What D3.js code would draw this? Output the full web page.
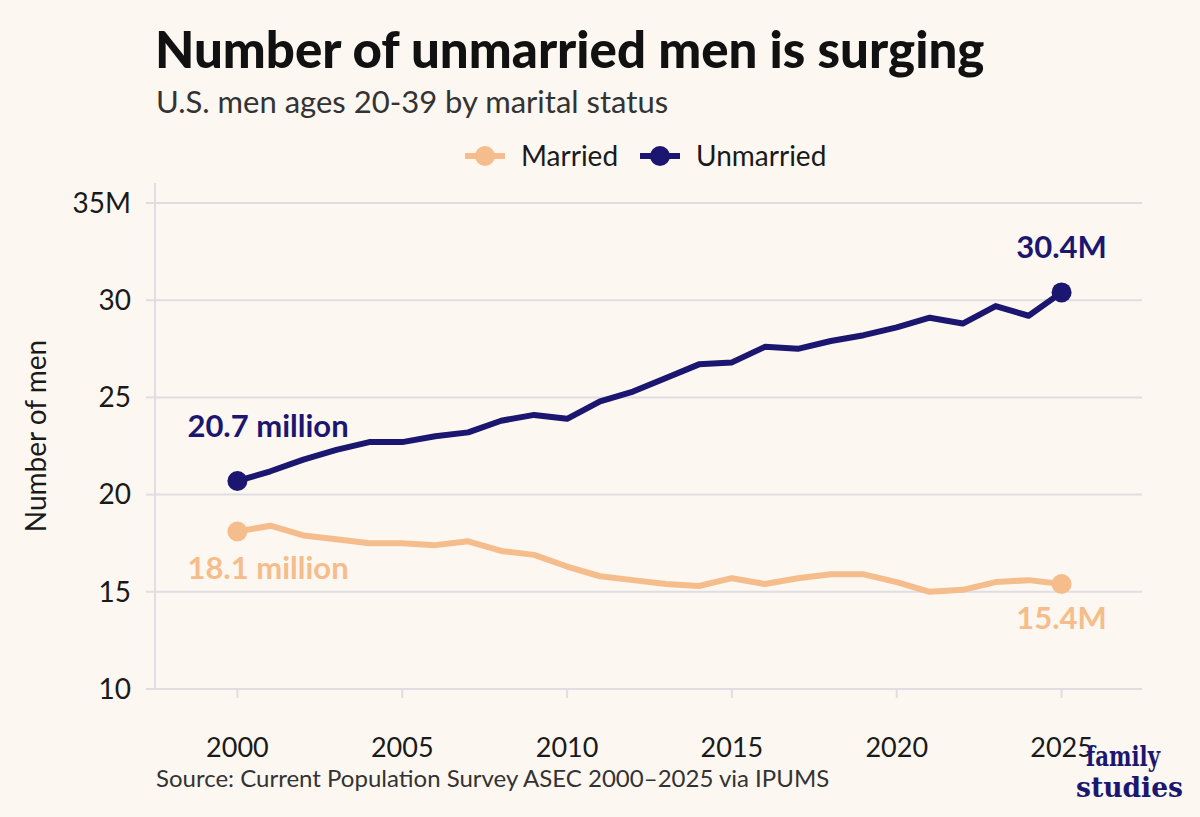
<!DOCTYPE html>
<html><head><meta charset="utf-8">
<script src="https://cdn.jsdelivr.net/npm/d3@7"></script>
<style>
body{margin:0;background:#fcf7f0;font-family:Lato,sans-serif;}
</style></head>
<body><svg id="chart"></svg>
<script>
const years = d3.range(2000, 2026);
const unmarried = [20.7,21.2,21.8,22.3,22.7,22.7,23.0,23.2,23.8,24.1,23.9,24.8,25.3,26.0,26.7,26.8,27.6,27.5,27.9,28.2,28.6,29.1,28.8,29.7,29.2,30.4];
const married = [18.1,18.4,17.9,17.7,17.5,17.5,17.4,17.6,17.1,16.9,16.3,15.8,15.6,15.4,15.3,15.7,15.4,15.7,15.9,15.9,15.5,15.0,15.1,15.5,15.6,15.4];
const yTicks = [10,15,20,25,30,35];
const xTicks = [2000,2005,2010,2015,2020,2025];

const width = 1200, height = 817;
const navy = "#1b1670", peach = "#f5bd8b";
const svg = d3.select("#chart").attr("width", width).attr("height", height);
svg.append("rect").attr("width", width).attr("height", height).attr("fill", "#fcf7f0");

const x = d3.scaleLinear().domain([1997.5, 2027.5]).range([155, 1144]);
const y = d3.scaleLinear().domain([10, 35]).range([689, 203]);

// gridlines
svg.append("g").selectAll("line").data(yTicks).join("line")
  .attr("x1", 155).attr("x2", 1142)
  .attr("y1", d => y(d)).attr("y2", d => y(d))
  .attr("stroke", "#e0dde3").attr("stroke-width", 2);

// axis lines
svg.append("line").attr("x1", 155).attr("x2", 155).attr("y1", 183).attr("y2", 689)
  .attr("stroke", "#e0dde3").attr("stroke-width", 2);
svg.append("line").attr("x1", 155).attr("x2", 1142).attr("y1", 689).attr("y2", 689)
  .attr("stroke", "#e0dde3").attr("stroke-width", 2);

// y tick labels
svg.append("g").selectAll("text").data(yTicks).join("text")
  .attr("x", 131).attr("y", d => y(d)).attr("dy", "0.35em")
  .attr("text-anchor", "end").attr("font-size", 28).attr("fill", "#1a1a1a")
  .text(d => d === 35 ? "35M" : d);
svg.append("g").selectAll("line").data(yTicks).join("line")
  .attr("x1", 146).attr("x2", 155).attr("y1", d => y(d)).attr("y2", d => y(d))
  .attr("stroke", "#e0dde3").attr("stroke-width", 2);

// x tick labels
svg.append("g").selectAll("text").data(xTicks).join("text")
  .attr("x", d => x(d)).attr("y", 757)
  .attr("text-anchor", "middle").attr("font-size", 27).attr("fill", "#1a1a1a")
  .text(d => d);
svg.append("g").selectAll("line").data(xTicks).join("line")
  .attr("x1", d => x(d)).attr("x2", d => x(d)).attr("y1", 689).attr("y2", 698)
  .attr("stroke", "#e0dde3").attr("stroke-width", 2);

svg.append("text").attr("transform", "translate(46,436) rotate(-90)")
  .attr("text-anchor", "middle").attr("font-size", 28).attr("fill", "#1a1a1a")
  .text("Number of men");

// lines
const line = d3.line().x((d, i) => x(years[i])).y(d => y(d));
[[married, peach], [unmarried, navy]].forEach(([vals, col]) => {
  svg.append("path").attr("d", line(vals)).attr("fill", "none")
    .attr("stroke", col).attr("stroke-width", 6).attr("stroke-linejoin", "round");
  svg.append("g").selectAll("circle").data([0, vals.length - 1]).join("circle")
    .attr("cx", i => x(years[i])).attr("cy", i => y(vals[i])).attr("r", 10).attr("fill", col);
});

// labels
const lab = (t, xx, yy, col, anchor) => svg.append("text").attr("x", xx).attr("y", yy)
  .attr("text-anchor", anchor).attr("font-size", 31).attr("font-weight", 700)
  .attr("fill", col).text(t);
lab("20.7 million", x(2000) - 50, y(unmarried[0]) - 44, navy, "start");
lab("18.1 million", x(2000) - 50, y(married[0]) + 47, peach, "start");
lab("30.4M", x(2025), y(unmarried[25]) - 34, navy, "middle");
lab("15.4M", x(2025), y(married[25]) + 45, peach, "middle");

// title
svg.append("text").attr("x", 155).attr("y", 68).attr("font-size", 51).attr("font-weight", 900)
  .attr("fill", "#111").text("Number of unmarried men is surging");
svg.append("text").attr("x", 156).attr("y", 113).attr("font-size", 31).attr("fill", "#333")
  .text("U.S. men ages 20-39 by marital status");

// legend
const legend = [["Married", peach, 465], ["Unmarried", navy, 640]];
legend.forEach(([t, c, lx]) => {
  svg.append("line").attr("x1", lx).attr("x2", lx + 40).attr("y1", 156).attr("y2", 156)
    .attr("stroke", c).attr("stroke-width", 6);
  svg.append("circle").attr("cx", lx + 20).attr("cy", 156).attr("r", 10).attr("fill", c);
  svg.append("text").attr("x", lx + 56).attr("y", 156).attr("dy", "0.35em")
    .attr("font-size", 28).attr("fill", "#1a1a1a").text(t);
});

svg.append("text").attr("x", 156).attr("y", 787).attr("font-size", 24).attr("fill", "#333")
  .text("Source: Current Population Survey ASEC 2000\u20132025 via IPUMS");

// logo
const logo = svg.append("g").attr("font-family", "'DejaVu Serif', 'Liberation Serif', serif")
  .attr("font-weight", 700).attr("fill", navy).attr("font-size", 27).attr("text-anchor", "end");
logo.append("text").attr("x", 1160).attr("y", 766).attr("textLength", 74).attr("lengthAdjust", "spacingAndGlyphs").text("family");
logo.append("text").attr("x", 1183).attr("y", 797).attr("textLength", 107).attr("lengthAdjust", "spacingAndGlyphs").text("studies");
</script></body></html>
